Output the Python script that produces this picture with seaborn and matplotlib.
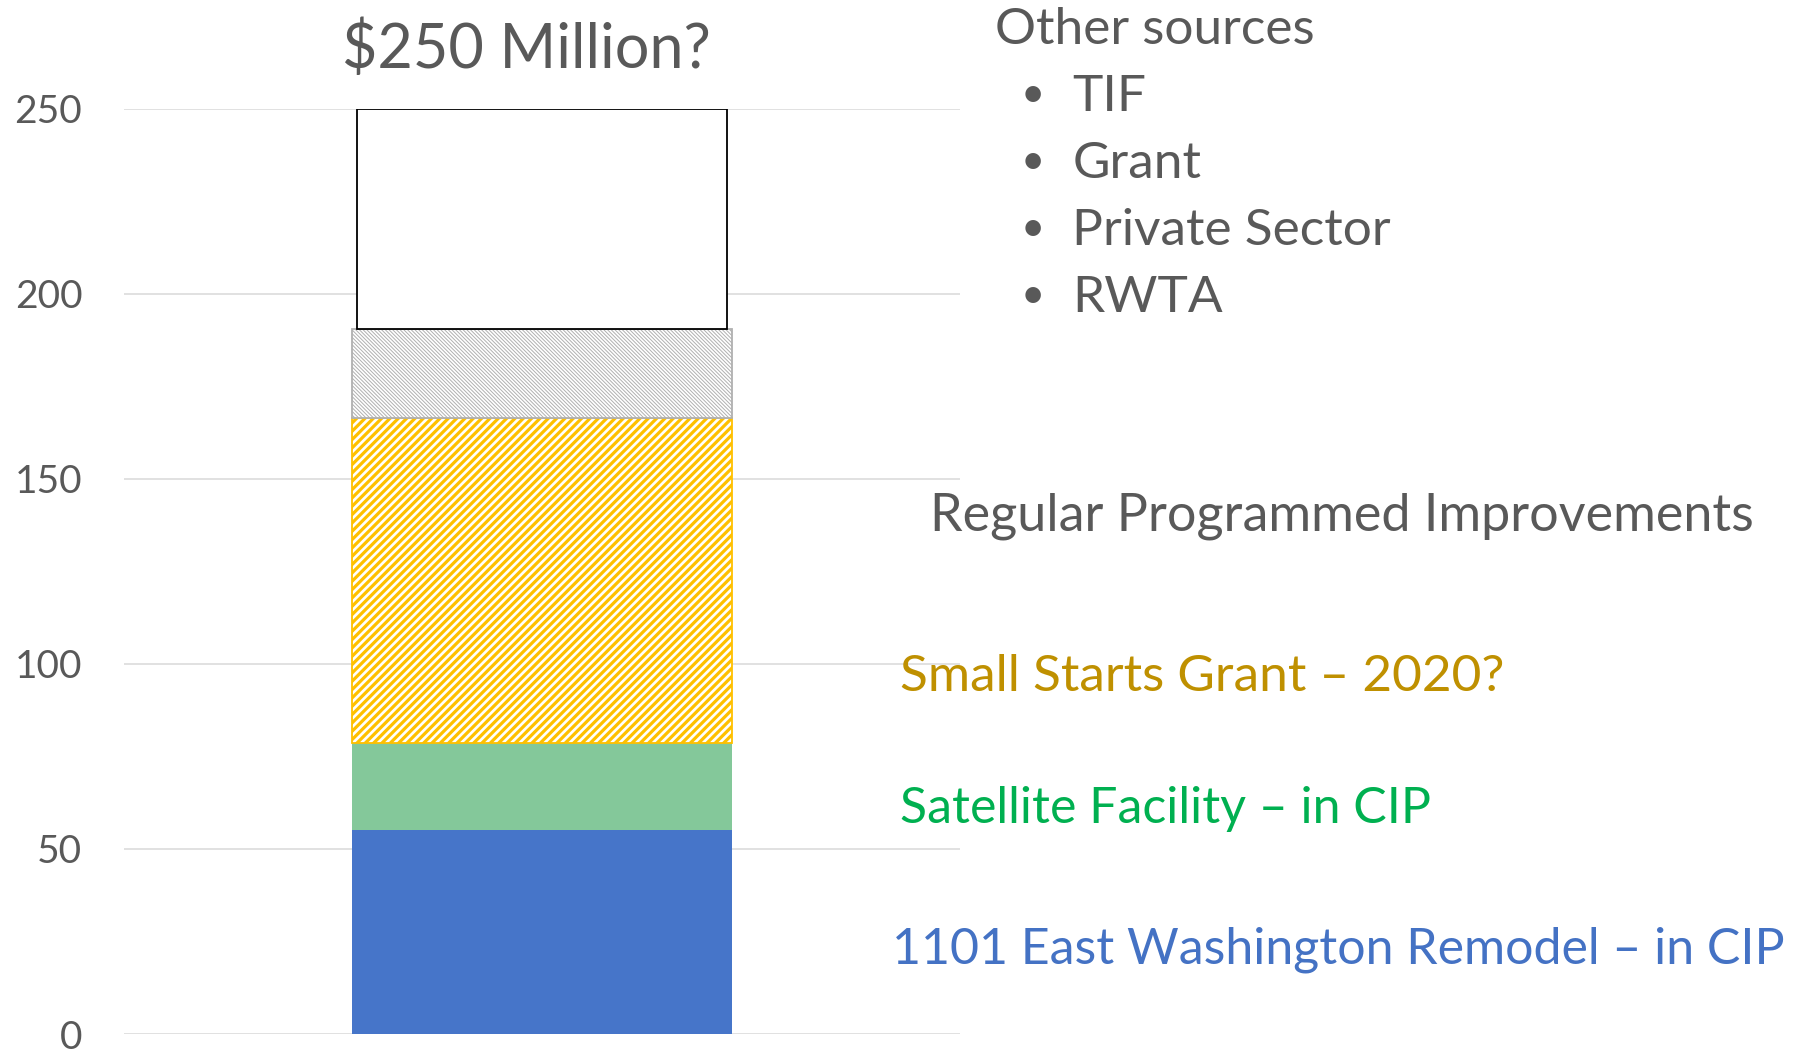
import numpy as np
import pandas as pd
import matplotlib
matplotlib.use("Agg")
import matplotlib.pyplot as plt
import seaborn as sns

# 数据
category = ["Total"]
segments = ["1101 East Washington Remodel – in CIP", "Satellite Facility – in CIP",
            "Small Starts Grant – 2020?", "Regular Programmed Improvements", "Other sources"]
values = [55, 23.5, 88, 24, 59.5]
other_items = ["TIF", "Grant", "Private Sector", "RWTA"]
title = "$250 Million?"
yticks = [0, 50, 100, 150, 200, 250]

# 样式
face = ["#4675C9", "#84C89A", "white", "white", "white"]
edge = ["#4675C9", "#84C89A", "#FFC000", "#B0B0B0", "black"]
hatch = [None, None, "////", "\\\\\\\\\\\\\\\\\\", None]
hatch_lw = [1.0, 1.0, 2.3, 0.7, 1.0]
widths = [0.455, 0.455, 0.455, 0.455, 0.443]
label_colors = ["#4472C4", "#00B050", "#BF9000", "#595959"]
grey = "#595959"

sns.set_theme(style="white")
plt.rcParams['font.family'] = ['Lato', 'DejaVu Sans']

fig = plt.figure(figsize=(17.96, 10.55), dpi=100)
ax = fig.add_axes([0.069, 0.0199, 0.4655, 0.877])

bottom = 0
for i, seg in enumerate(segments):
    df = pd.DataFrame({"cat": category, "val": [values[i]]})
    n_before = len(ax.patches)
    plt.rcParams['hatch.linewidth'] = hatch_lw[i]
    sns.barplot(data=df, x="cat", y="val", ax=ax, width=widths[i], bottom=bottom,
                facecolor=face[i], edgecolor=edge[i], hatch=hatch[i],
                linewidth=1.3 if i >= 2 else 0)
    for p in ax.patches[n_before:]:
        if hasattr(p, "set_hatch_linewidth"):
            p.set_hatch_linewidth(hatch_lw[i])
        p.set_zorder(3)
    bottom += values[i]

ax.set_ylim(0, 250)
ax.set_xlim(-0.5, 0.5)
ax.set_yticks(yticks)
ax.yaxis.grid(True, color="#D9D9D9", linewidth=1.1)
ax.set_axisbelow(True)
ax.tick_params(axis="y", labelsize=28, labelcolor=grey, pad=30, length=0)
ax.set_xticks([])
ax.set_xlabel("")
ax.set_ylabel("")
for s in ax.spines.values():
    s.set_visible(False)

fs = 37
fig.text(0.2929, 0.953, title, fontsize=44, color=grey, ha="center", va="center")
fig.text(0.554, 0.972, "Other sources", fontsize=fs, color=grey, ha="left", va="center")
for j, item in enumerate(other_items):
    y = 1 - (97 + 67 * j) / 1055
    fig.text(0.5685, y + 0.002, "•", fontsize=30, color=grey, ha="left", va="center")
    fig.text(0.597, y, item, fontsize=fs, color=grey, ha="left", va="center")

fig.text(0.518, 1 - 516 / 1055, segments[3], fontsize=37.5, color=label_colors[3], ha="left", va="center")
fig.text(0.501, 1 - 677 / 1055, segments[2], fontsize=fs, color=label_colors[2], ha="left", va="center")
fig.text(0.501, 1 - 809 / 1055, segments[1], fontsize=36, color=label_colors[1], ha="left", va="center")
fig.text(0.4967, 1 - 950 / 1055, segments[0], fontsize=36, color=label_colors[0], ha="left", va="center")

fig.savefig("out.png", dpi=100)
